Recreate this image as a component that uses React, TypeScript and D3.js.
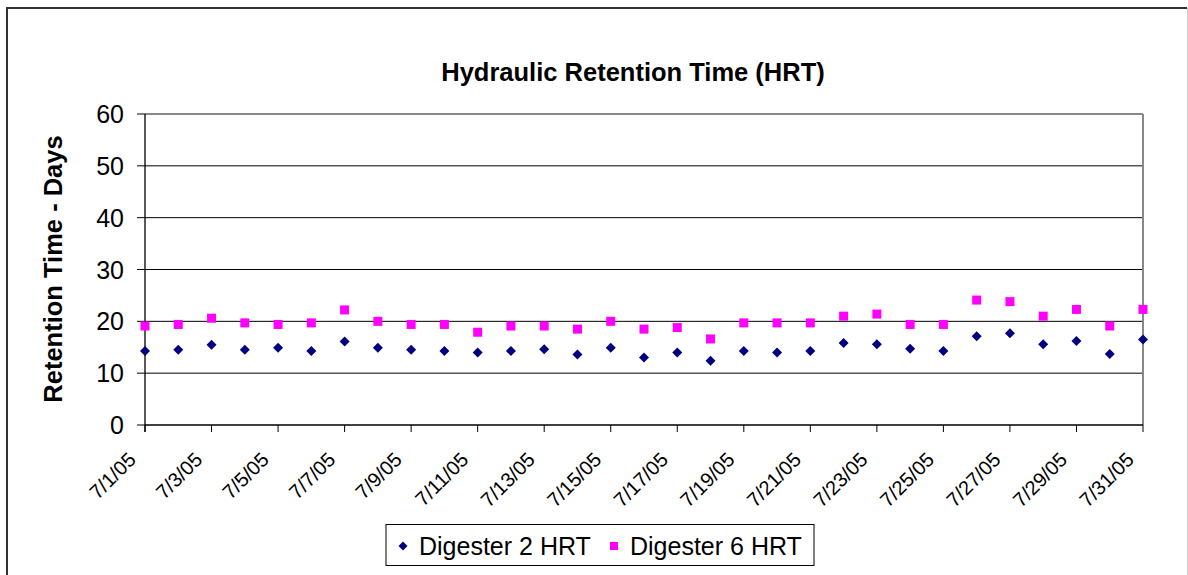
import React from "react";
import * as d3 from "d3";

const dates: string[] = Array.from({ length: 31 }, (_, i) => `7/${i + 1}/05`);
const digester2: number[] = [
  14.3, 14.5, 15.5, 14.5, 14.9, 14.3, 16.1, 14.9, 14.5, 14.3,
  14.0, 14.3, 14.6, 13.6, 14.9, 13.0, 14.0, 12.4, 14.3, 14.0,
  14.3, 15.8, 15.6, 14.7, 14.3, 17.1, 17.7, 15.6, 16.2, 13.7, 16.5,
];
const digester6: number[] = [
  19.1, 19.4, 20.6, 19.7, 19.4, 19.7, 22.2, 20.0, 19.4, 19.4,
  17.9, 19.1, 19.1, 18.5, 20.0, 18.5, 18.8, 16.6, 19.7, 19.7,
  19.7, 21.0, 21.4, 19.4, 19.4, 24.1, 23.8, 21.0, 22.3, 19.1, 22.3,
];
const yTicks: number[] = [0, 10, 20, 30, 40, 50, 60];
const xLabelIdx: number[] = Array.from({ length: 16 }, (_, i) => i * 2);

const W = 1188;
const H = 575;
const L = 145, R = 1143, T = 114, B = 425;

export default function App() {
  const x = d3.scaleLinear().domain([0, 30]).range([L, R]);
  const y = d3.scaleLinear().domain([0, 60]).range([B, T]);
  const font = "Arial, 'Liberation Sans', sans-serif";
  const diamond = (cx: number, cy: number, r: number) =>
    `M${cx},${cy - r}L${cx + r},${cy}L${cx},${cy + r}L${cx - r},${cy}Z`;

  return (
    <svg width={W} height={H} style={{ position: "absolute", left: 0, top: 0 }} fontFamily={font}>
      <rect x={0} y={0} width={W} height={H} fill="#fff" />
      {/* outer frame */}
      <line x1={7} y1={8} x2={1187} y2={8} stroke="#333" strokeWidth={2} />
      <line x1={7} y1={7} x2={7} y2={H} stroke="#333" strokeWidth={2} />
      <line x1={1187.5} y1={8} x2={1187.5} y2={H} stroke="#ccc" strokeWidth={1} />

      <text x={633} y={81} textAnchor="middle" fontSize={25.5} fontWeight="bold">
        Hydraulic Retention Time (HRT)
      </text>

      {/* gridlines */}
      {yTicks.filter((t) => t > 0 && t < 60).map((t) => (
        <line key={t} x1={L} x2={R} y1={y(t)} y2={y(t)} stroke="#000" strokeWidth={1} />
      ))}
      {/* plot border top/right */}
      <line x1={L} x2={R} y1={T} y2={T} stroke="#888" strokeWidth={2} />
      <line x1={R} x2={R} y1={T} y2={B} stroke="#888" strokeWidth={2} />

      {/* y axis */}
      <line x1={L} x2={L} y1={T} y2={B + 7} stroke="#000" strokeWidth={1.3} />
      {yTicks.map((t) => (
        <g key={t}>
          <line x1={L - 8} x2={L} y1={y(t)} y2={y(t)} stroke="#000" strokeWidth={1} />
          <text x={124} y={y(t) + 9} textAnchor="end" fontSize={25}>
            {t}
          </text>
        </g>
      ))}
      <text
        transform={`translate(62,${269}) rotate(-90)`}
        textAnchor="middle"
        fontSize={25.5}
        fontWeight="bold"
      >
        Retention Time - Days
      </text>

      {/* x axis */}
      <line x1={L} x2={R} y1={B} y2={B} stroke="#000" strokeWidth={1.3} />
      {xLabelIdx.map((i) => (
        <g key={i}>
          <line x1={x(i)} x2={x(i)} y1={B} y2={B + 7} stroke="#000" strokeWidth={1} />
          <text
            transform={`translate(${x(i) - 8},${B + 36}) rotate(-45)`}
            textAnchor="end"
            fontSize={20}
          >
            {dates[i]}
          </text>
        </g>
      ))}

      {/* markers */}
      {digester6.map((v, i) => (
        <rect key={`s${i}`} x={x(i) - 4.5} y={y(v) - 4.5} width={9} height={9} fill="#FF00FF" />
      ))}
      {digester2.map((v, i) => (
        <path key={`d${i}`} d={diamond(x(i), y(v), 5)} fill="#000080" />
      ))}

      {/* legend */}
      <rect x={386} y={524.5} width={428} height={41} fill="#fff" stroke="#000" strokeWidth={1} />
      <path d={diamond(403, 546, 4.5)} fill="#000080" />
      <text x={419} y={555} fontSize={25}>Digester 2 HRT</text>
      <rect x={610} y={542} width={8} height={8} fill="#FF00FF" />
      <text x={630} y={555} fontSize={25}>Digester 6 HRT</text>
    </svg>
  );
}
